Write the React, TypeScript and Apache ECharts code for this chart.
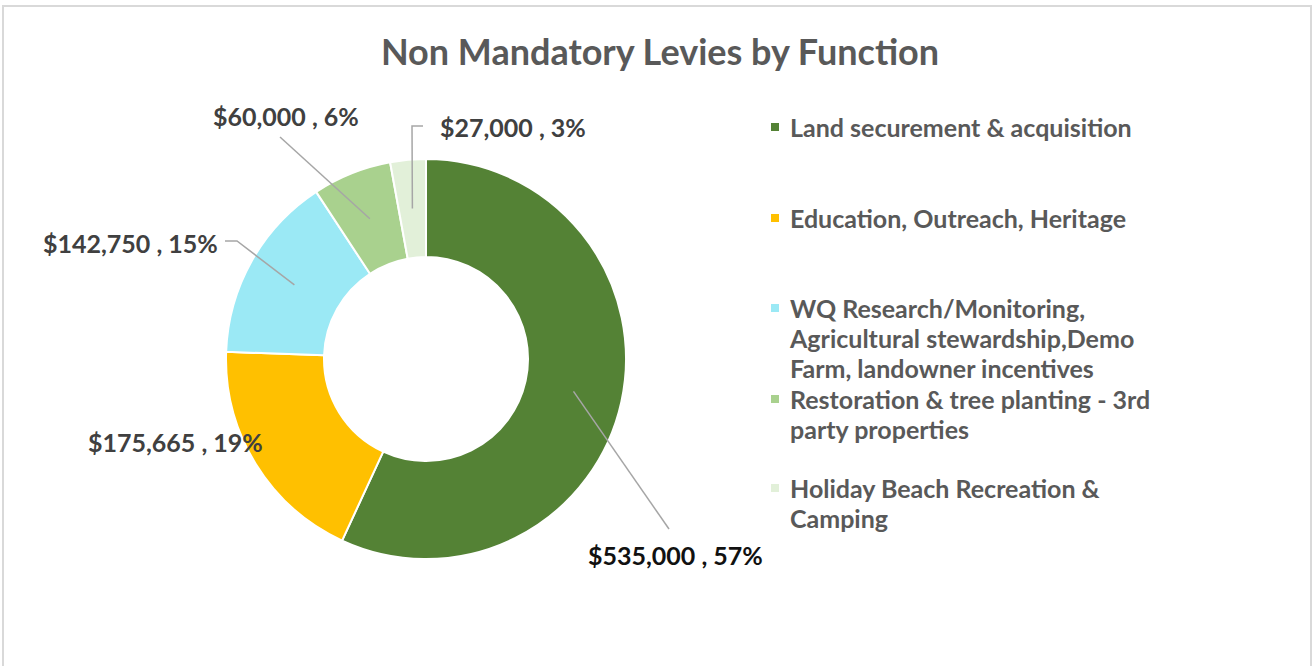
import { useEffect, useRef } from "react";
import * as echarts from "echarts";

// ---- data ----
const categories = [
  "Land securement & acquisition",
  "Education, Outreach, Heritage",
  "WQ Research/Monitoring, Agricultural stewardship,Demo Farm, landowner incentives",
  "Restoration & tree planting - 3rd party properties",
  "Holiday Beach Recreation & Camping",
];
const legendLines = [
  ["Land securement & acquisition"],
  ["Education, Outreach, Heritage"],
  ["WQ Research/Monitoring,", "Agricultural stewardship,Demo", "Farm, landowner incentives"],
  ["Restoration & tree planting - 3rd", "party properties"],
  ["Holiday Beach Recreation &", "Camping"],
];
const values = [535000, 175665, 142750, 60000, 27000];
const title = "Non Mandatory Levies by Function";

// ---- styles / layout ----
const colors = ["#548235", "#FFC000", "#9BE9F5", "#A9D18E", "#E2F0D9"];
const labelColors = ["#111111", "#404040", "#404040", "#404040", "#404040"];
const FONT = "Lato, 'Open Sans', sans-serif";
const CX = 426;
const CY = 359;
const R0 = 102;
const R1 = 200;
// label text anchor (left, middle) and label-line elbow / end points
const labelPos: [number, number][] = [
  [588, 555],
  [88, 442],
  [43, 243],
  [213, 116],
  [440, 127],
];
const lineElbow: ([number, number] | null)[] = [[669, 529], null, [237, 241], [280, 137], [412, 126]];
const lineEnd: ([number, number] | null)[] = [[669, 529], null, [225, 241], [280, 137], [423, 126]];
const legendY = [127, 218, 308, 399, 488];
const LEGEND_LH = 30;

export default function App() {
  const ref = useRef<HTMLDivElement>(null);
  useEffect(() => {
    if (!ref.current) return;
    const chart = echarts.init(ref.current, null, { renderer: "svg" });
    const total = values.reduce((a, b) => a + b, 0);
    const midAngles: number[] = [];
    let acc = 0;
    values.forEach((v) => {
      midAngles.push(((acc + v / 2) / total) * Math.PI * 2);
      acc += v;
    });
    const rm = (R0 + R1) / 2;

    const legends = categories.map((name, i) => {
      const n = legendLines[i].length;
      const h = (2 * n - 1) * LEGEND_LH;
      return {
        data: [{ name, itemStyle: { color: colors[i] } }],
        orient: "vertical",
        left: 769,
        top: legendY[i] - h / 2,
        padding: 0,
        itemWidth: 10,
        itemHeight: 10,
        icon: "rect",
        selectedMode: false,
        formatter: () => "\n".repeat(n - 1) + legendLines[i].join("\n"),
        textStyle: {
          fontFamily: FONT,
          fontSize: 25,
          fontWeight: "bold",
          color: "#595959",
          lineHeight: LEGEND_LH,
          padding: [0, 0, 0, 5],
        },
      };
    });

    const baseData = categories.map((name, i) => ({ name, value: values[i] }));

    chart.setOption({
      animation: false,
      backgroundColor: "#ffffff",
      title: {
        text: title,
        left: 655,
        textAlign: "center",
        top: 28,
        textStyle: { fontFamily: FONT, fontSize: 36, fontWeight: "bold", color: "#595959" },
      },
      legend: legends,
      graphic: [
        {
          type: "rect",
          z: -10,
          shape: { x: 3, y: 6, width: 1308, height: 700 },
          style: { fill: "transparent", stroke: "#d9d9d9", lineWidth: 2 },
          silent: true,
        },
      ],
      series: [
        {
          type: "pie",
          z: 2,
          center: [CX, CY],
          radius: [R0, R1],
          startAngle: 90,
          clockwise: true,
          itemStyle: { borderColor: "#ffffff", borderWidth: 2 },
          emphasis: { disabled: true },
          label: { show: false },
          labelLine: { show: false },
          data: baseData.map((d, i) => ({ ...d, itemStyle: { color: colors[i] } })),
        },
        {
          type: "pie",
          z: 5,
          silent: true,
          center: [CX, CY],
          radius: [R0, R1],
          startAngle: 90,
          clockwise: true,
          avoidLabelOverlap: false,
          itemStyle: { color: "rgba(0,0,0,0)", borderWidth: 0 },
          emphasis: { disabled: true },
          label: {
            show: true,
            position: "outside",
            fontFamily: FONT,
            fontSize: 25,
            fontWeight: "bold",
            formatter: (p: any) =>
              "$" + Number(p.value).toLocaleString("en-US") + " , " + Math.round(p.percent) + "%",
          },
          labelLine: { show: true, lineStyle: { color: "#a6a6a6", width: 1.5 } },
          labelLayout: (p: any) => {
            const i = p.dataIndex;
            const a = midAngles[i];
            const start: [number, number] = [CX + rm * Math.sin(a), CY - rm * Math.cos(a)];
            const out: any = {
              x: labelPos[i][0],
              y: labelPos[i][1],
              align: "left",
              verticalAlign: "middle",
            };
            if (lineElbow[i] && lineEnd[i]) {
              out.labelLinePoints = [start, lineElbow[i], lineEnd[i]];
            }
            return out;
          },
          data: baseData.map((d, i) => ({
            ...d,
            label: { color: labelColors[i] },
            labelLine: { show: lineElbow[i] != null },
          })),
        },
      ],
    });
    return () => chart.dispose();
  }, []);
  return (
    <div
      ref={ref}
      style={{ position: "fixed", left: 0, top: 0, width: 1316, height: 666, background: "#fff" }}
    />
  );
}
